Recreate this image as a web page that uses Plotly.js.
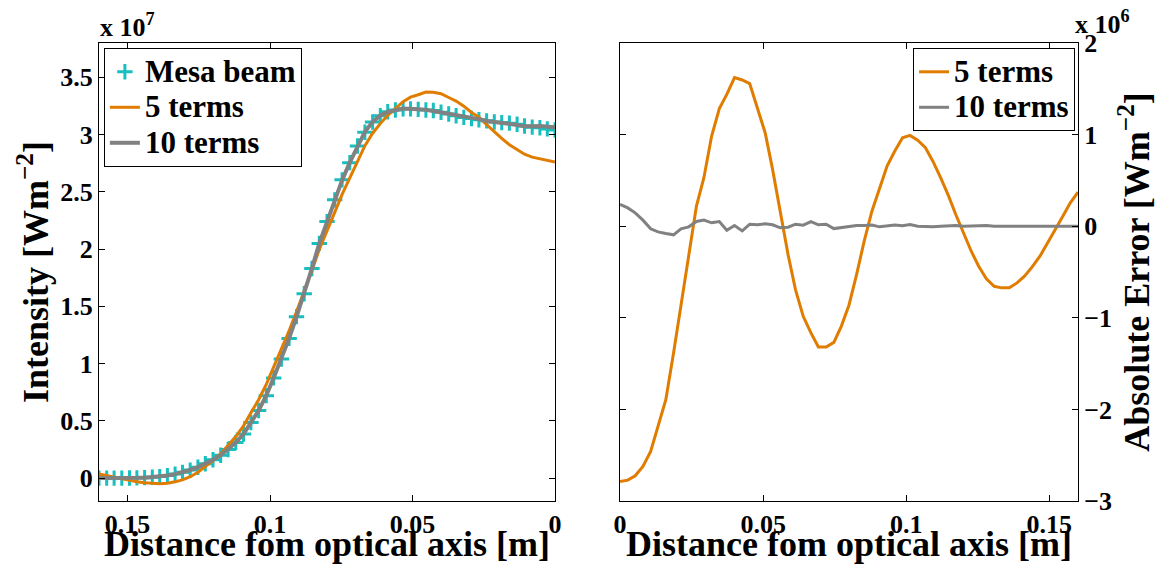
<!DOCTYPE html>
<html>
<head>
<meta charset="utf-8">
<script src="https://cdn.plot.ly/plotly-3.0.1.min.js"></script>
<style>html,body{margin:0;padding:0;background:#fff;}#chart{width:1158px;height:564px;}</style>
</head>
<body>
<div id="chart"></div>
<script>
// Distance from optical axis [m]
const distance = [0, 0.0027, 0.0053, 0.008, 0.0107, 0.0133, 0.016, 0.0187, 0.0213, 0.024,
  0.0267, 0.0293, 0.032, 0.0347, 0.0373, 0.04, 0.0427, 0.0453, 0.048, 0.0507,
  0.0533, 0.056, 0.0587, 0.0613, 0.064, 0.0667, 0.0693, 0.072, 0.0747, 0.0773,
  0.08, 0.0827, 0.0853, 0.088, 0.0907, 0.0933, 0.096, 0.0987, 0.1013, 0.104,
  0.1067, 0.1093, 0.112, 0.1147, 0.1173, 0.12, 0.1227, 0.1253, 0.128, 0.1307,
  0.1333, 0.136, 0.1387, 0.1413, 0.144, 0.1467, 0.1493, 0.152, 0.1547, 0.1573, 0.16];

// Intensity, units of 1e7 W m^-2
const mesaBeam = [3.04, 3.05, 3.06, 3.065, 3.075, 3.09, 3.10, 3.105, 3.11, 3.12,
  3.13, 3.14, 3.15, 3.165, 3.18, 3.195, 3.21, 3.215, 3.22, 3.225,
  3.225, 3.215, 3.20, 3.165, 3.11, 3.02, 2.90, 2.755, 2.605, 2.43,
  2.24, 2.05, 1.83, 1.61, 1.41, 1.22, 1.04, 0.875, 0.72, 0.59,
  0.485, 0.385, 0.31, 0.25, 0.20, 0.16, 0.125, 0.095, 0.07, 0.05,
  0.035, 0.022, 0.013, 0.008, 0.004, 0.002, 0.001, 0, 0, 0, 0];

const fit5 = [2.761, 2.773, 2.788, 2.803, 2.829, 2.871, 2.911, 2.967, 3.023, 3.087,
  3.152, 3.193, 3.248, 3.293, 3.324, 3.357, 3.370, 3.371, 3.348, 3.327,
  3.287, 3.230, 3.169, 3.096, 3.012, 2.903, 2.768, 2.623, 2.478, 2.321,
  2.154, 1.998, 1.814, 1.626, 1.452, 1.286, 1.122, 0.972, 0.819, 0.684,
  0.571, 0.456, 0.363, 0.284, 0.213, 0.153, 0.098, 0.051, 0.012, -0.016,
  -0.032, -0.045, -0.049, -0.047, -0.040, -0.031, -0.018, -0.004, 0.011, 0.026, 0.037];

const fit10 = [3.064, 3.070, 3.075, 3.072, 3.072, 3.084, 3.092, 3.096, 3.107, 3.119,
  3.135, 3.147, 3.154, 3.170, 3.176, 3.196, 3.205, 3.217, 3.222, 3.228,
  3.227, 3.213, 3.199, 3.167, 3.111, 3.025, 2.902, 2.757, 2.602, 2.428,
  2.240, 2.051, 1.831, 1.611, 1.409, 1.220, 1.041, 0.876, 0.722, 0.590,
  0.485, 0.384, 0.310, 0.250, 0.201, 0.160, 0.125, 0.096, 0.071, 0.050,
  0.035, 0.022, 0.013, 0.008, 0.004, 0.002, 0.001, 0, 0, 0, 0];

// Absolute error, units of 1e6 W m^-2
const err5 = [-2.787, -2.772, -2.725, -2.623, -2.459, -2.186, -1.894, -1.384, -0.874, -0.328,
  0.219, 0.529, 0.984, 1.283, 1.439, 1.622, 1.596, 1.556, 1.283, 1.021,
  0.620, 0.146, -0.309, -0.692, -0.984, -1.165, -1.318, -1.318, -1.268, -1.093,
  -0.860, -0.520, -0.164, 0.164, 0.420, 0.656, 0.820, 0.966, 0.991, 0.940,
  0.857, 0.710, 0.529, 0.336, 0.128, -0.072, -0.273, -0.437, -0.575, -0.656,
  -0.673, -0.673, -0.619, -0.546, -0.444, -0.328, -0.189, -0.036, 0.109, 0.256, 0.372];

const err10 = [0.237, 0.200, 0.146, 0.066, -0.029, -0.062, -0.080, -0.094, -0.029, -0.007,
  0.051, 0.066, 0.037, 0.051, -0.044, 0.008, -0.051, 0.022, 0.015, 0.026,
  0.015, -0.018, -0.011, 0.022, 0.011, 0.051, 0.015, 0.022, -0.026, -0.015,
  0.002, 0.007, 0.007, 0.012, -0.007, 0.004, 0.012, 0.005, 0.018, 0,
  -0.004, -0.007, 0, 0.004, 0.007, 0, 0.004, 0.007, 0.007, 0,
  0, 0, 0, 0, 0, 0, 0, 0, 0, 0, 0];

const seriesNames = ['Mesa beam', '5 terms', '10 terms'];
const leftXTicks = [0.15, 0.1, 0.05, 0];
const leftXLabels = ['0.15', '0.1', '0.05', '0'];
const leftYTicks = [0, 0.5, 1, 1.5, 2, 2.5, 3, 3.5];
const leftYLabels = ['0', '0.5', '1', '1.5', '2', '2.5', '3', '3.5'];
const rightXTicks = [0, 0.05, 0.1, 0.15];
const rightXLabels = ['0', '0.05', '0.1', '0.15'];
const rightYTicks = [-3, -2, -1, 0, 1, 2];
const rightYLabels = ['\u22123', '\u22122', '\u22121', '0', '1', '2'];

const FONT = 'Liberation Serif, Times New Roman, serif';
const CYAN = '#19BFBF', ORANGE = '#E07C00', GRAY = '#818181';
const big = s => '<span style="font-size:31px">' + s + '</span>';

const traces = [
  {x: distance, y: mesaBeam, type: 'scatter', mode: 'markers', name: big(seriesNames[0]),
   marker: {symbol: 'cross-thin', size: 11, color: CYAN, line: {color: CYAN, width: 3}},
   xaxis: 'x', yaxis: 'y', legend: 'legend'},
  {x: distance, y: fit5, type: 'scatter', mode: 'lines', name: big(seriesNames[1]),
   line: {color: ORANGE, width: 3}, xaxis: 'x', yaxis: 'y', legend: 'legend'},
  {x: distance, y: fit10, type: 'scatter', mode: 'lines', name: big(seriesNames[2]),
   line: {color: GRAY, width: 4}, xaxis: 'x', yaxis: 'y', legend: 'legend'},
  {x: distance, y: err5, type: 'scatter', mode: 'lines', name: big(seriesNames[1]),
   line: {color: ORANGE, width: 3}, xaxis: 'x2', yaxis: 'y2', legend: 'legend2'},
  {x: distance, y: err10, type: 'scatter', mode: 'lines', name: big(seriesNames[2]),
   line: {color: GRAY, width: 3}, xaxis: 'x2', yaxis: 'y2', legend: 'legend2'}
];

const tickFont = {family: FONT, size: 26, color: '#000', weight: 'bold'};
const titleFont = {family: FONT, size: 36, color: '#000', weight: 'bold'};
const axisCommon = {
  showline: true, linecolor: '#000', linewidth: 1, mirror: 'ticks',
  ticks: 'inside', ticklen: 6, tickcolor: '#000', tickwidth: 1,
  showgrid: false, zeroline: false, tickfont: tickFont, automargin: false
};

const legendFont = {family: FONT, size: 25, color: '#000', weight: 'bold'};

const layout = {
  width: 1158, height: 564,
  margin: {l: 99, r: 80, t: 43, b: 63},
  paper_bgcolor: '#fff', plot_bgcolor: '#fff',
  font: {family: FONT, color: '#000'},
  showlegend: true,
  xaxis: Object.assign({}, axisCommon, {
    domain: [0, 0.4658], range: [0.16, 0], anchor: 'y',
    tickmode: 'array', tickvals: leftXTicks, ticktext: leftXLabels,
    title: {text: 'Distance fom optical axis [m]', font: titleFont, standoff: 7}
  }),
  yaxis: Object.assign({}, axisCommon, {
    domain: [0, 1], range: [-0.2, 3.8], anchor: 'x',
    tickmode: 'array', tickvals: leftYTicks, ticktext: leftYLabels,
    title: {text: 'Intensity [Wm<sup>\u22122</sup>]', font: titleFont, standoff: 0}
  }),
  xaxis2: Object.assign({}, axisCommon, {
    domain: [0.5322, 1], range: [0, 0.16], anchor: 'y2',
    tickmode: 'array', tickvals: rightXTicks, ticktext: rightXLabels,
    title: {text: 'Distance fom optical axis [m]', font: titleFont, standoff: 7}
  }),
  yaxis2: Object.assign({}, axisCommon, {
    domain: [0, 1], range: [-3, 2], anchor: 'x2', side: 'right',
    tickmode: 'array', tickvals: rightYTicks, ticktext: rightYLabels,
    title: {text: 'Absolute Error [Wm<sup>\u22122</sup>]', font: titleFont, standoff: 4}
  }),
  legend: {
    x: 0.005, y: 0.989, xanchor: 'left', yanchor: 'top',
    bgcolor: '#fff', bordercolor: '#000', borderwidth: 1,
    font: legendFont, tracegroupgap: 0
  },
  legend2: {
    x: 0.997, y: 0.989, xanchor: 'right', yanchor: 'top',
    bgcolor: '#fff', bordercolor: '#000', borderwidth: 1,
    font: legendFont, tracegroupgap: 0
  },
  annotations: [
    {xref: 'paper', yref: 'paper', x: 0, y: 1, xanchor: 'left', yanchor: 'bottom', xshift: -1, yshift: -1,
     text: 'x 10<sup>7</sup>', showarrow: false,
     font: {family: FONT, size: 26, color: '#000', weight: 'bold'}},
    {xref: 'paper', yref: 'paper', x: 1, y: 1, xanchor: 'left', yanchor: 'bottom', xshift: -5, yshift: 2,
     text: 'x 10<sup>6</sup>', showarrow: false,
     font: {family: FONT, size: 26, color: '#000', weight: 'bold'}}
  ]
};

Plotly.newPlot('chart', traces, layout, {staticPlot: true, displayModeBar: false});
</script>
</body>
</html>
